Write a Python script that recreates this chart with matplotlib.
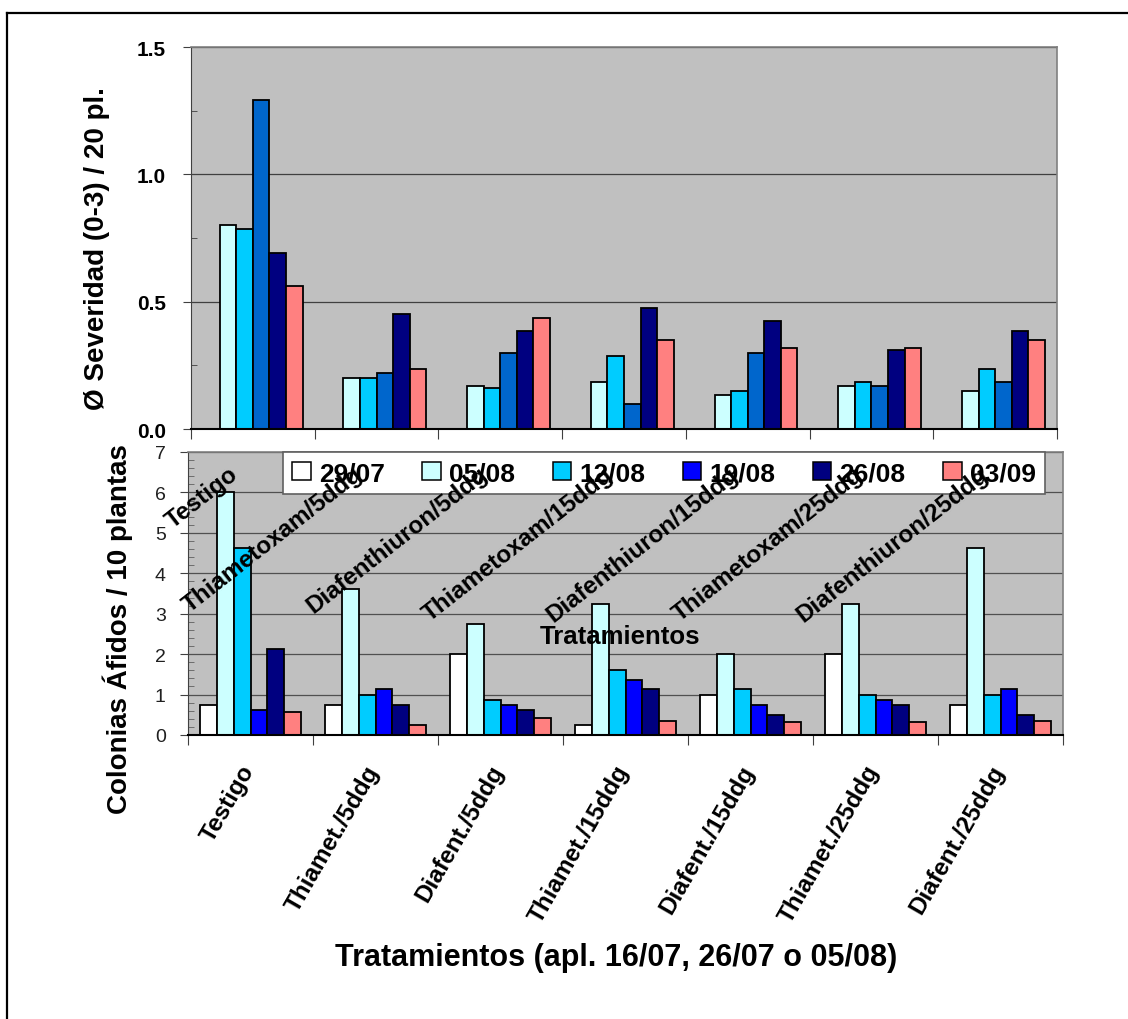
import numpy as np
import matplotlib
matplotlib.use('Agg')
import matplotlib.pyplot as plt
from matplotlib.patches import Patch
from matplotlib.lines import Line2D

plt.rcParams['font.family'] = ['Liberation Sans', 'DejaVu Sans']

# datos
fechas = ['29/07', '05/08', '12/08', '19/08', '26/08', '03/09']
trat_cortos = ['Testigo', 'Thiamet./5ddg', 'Diafent./5ddg', 'Thiamet./15ddg',
               'Diafent./15ddg', 'Thiamet./25ddg', 'Diafent./25ddg']
trat_largos = ['Testigo', 'Thiametoxam/5ddg', 'Diafenthiuron/5ddg', 'Thiametoxam/15ddg',
               'Diafenthiuron/15ddg', 'Thiametoxam/25ddg', 'Diafenthiuron/25ddg']

# severidad (0-3) / 20 pl.
sev_2907 = [0, 0, 0, 0, 0, 0, 0]
sev_0508 = [0.80, 0.20, 0.17, 0.185, 0.135, 0.17, 0.15]
sev_1208 = [0.785, 0.20, 0.16, 0.285, 0.15, 0.185, 0.235]
sev_1908 = [1.29, 0.22, 0.30, 0.10, 0.30, 0.17, 0.185]
sev_2608 = [0.69, 0.45, 0.385, 0.475, 0.425, 0.31, 0.385]
sev_0309 = [0.56, 0.235, 0.435, 0.35, 0.32, 0.32, 0.35]

# colonias afidos / 10 plantas
col_2907 = [0.75, 0.75, 2.0, 0.25, 1.0, 2.0, 0.75]
col_0508 = [6.0, 3.62, 2.75, 3.25, 2.0, 3.25, 4.62]
col_1208 = [4.62, 1.0, 0.87, 1.62, 1.13, 1.0, 1.0]
col_1908 = [0.62, 1.13, 0.75, 1.37, 0.75, 0.87, 1.13]
col_2608 = [2.13, 0.75, 0.62, 1.13, 0.5, 0.75, 0.5]
col_0309 = [0.56, 0.25, 0.43, 0.35, 0.31, 0.31, 0.35]

severidad = [sev_2907, sev_0508, sev_1208, sev_1908, sev_2608, sev_0309]
colonias = [col_2907, col_0508, col_1208, col_1908, col_2608, col_0309]

colores_sev = ['white', '#CCFFFF', '#00CCFF', '#0066CC', '#000080', '#FF8080']
colores_col = ['white', '#CCFFFF', '#00CCFF', '#0000FF', '#000080', '#FF8080']

W, H = 1128, 1020
fig = plt.figure(figsize=(W / 100, H / 100), dpi=100)

def caja(x0, y0, x1, y1):
    return [x0 / W, 1 - y1 / H, (x1 - x0) / W, (y1 - y0) / H]

ax1 = fig.add_axes(caja(191, 48, 1057, 430))
ax2 = fig.add_axes(caja(188, 453, 1063, 736))

x = np.arange(len(trat_cortos))
ancho = 0.134

for ax, datos, colores in [(ax1, severidad, colores_sev), (ax2, colonias, colores_col)]:
    ax.set_facecolor('#C0C0C0')
    for i, serie in enumerate(datos):
        ax.bar(x + (i - 2.5) * ancho, serie, ancho, color=colores[i],
               edgecolor='black', linewidth=1.3, zorder=2)
    ax.set_xlim(-0.5, len(x) - 0.5)
    # marcas entre grupos
    ax.set_xticks(np.arange(len(x) + 1) - 0.5, minor=True)
    ax.set_xticks([])
    ax.tick_params(axis='x', which='minor', direction='out', length=7, width=0.8,
                   color='#404040', labelbottom=False)
    for lado in ['top', 'right']:
        ax.spines[lado].set_color('#808080')
        ax.spines[lado].set_linewidth(1.2)
    ax.spines['left'].set_color('#404040')
    ax.spines['bottom'].set_color('black')
    ax.spines['bottom'].set_linewidth(1.5)

# grafico de arriba
ax1.set_ylim(0, 1.5)
ax1.set_yticks([0.0, 0.5, 1.0, 1.5])
ax1.set_yticklabels(['0.0', '0.5', '1.0', '1.5'], fontweight='bold', fontsize=15)
ax1.set_yticks([0.25, 0.75, 1.25], minor=True)
ax1.tick_params(axis='y', which='major', direction='out', length=6, pad=12, color='#404040')
ax1.tick_params(axis='y', which='minor', direction='in', length=4, color='#404040')
ax1.yaxis.grid(True, which='major', color='#404040', linewidth=0.9, zorder=1)
ax1.set_axisbelow(True)

# grafico de abajo
ax2.set_ylim(0, 7)
ax2.set_yticks(range(8))
ax2.set_yticklabels([str(v) for v in range(8)], fontsize=14, color='#202020')
ax2.set_yticks(np.arange(0, 7.01, 0.2), minor=True)
ax2.tick_params(axis='y', which='major', direction='out', length=6, pad=10, color='#404040')
ax2.tick_params(axis='y', which='minor', direction='in', length=4, color='#606060')
ax2.yaxis.grid(True, which='major', color='#505050', linewidth=0.9, zorder=1)
ax2.set_axisbelow(True)

# etiquetas de tratamientos debajo del eje
for xi, nombre in zip(x, trat_cortos):
    ax2.text(xi + 0.065, -0.92, nombre, rotation=60, rotation_mode='anchor',
             ha='right', va='bottom', fontsize=17.5, fontweight='bold', clip_on=False)

# etiquetas largas dentro del grafico de abajo
for xi, nombre in zip(x, trat_largos):
    ax2.text(xi - 0.065, 6.30, nombre, rotation=38, rotation_mode='anchor',
             ha='right', va='bottom', fontsize=17.5, fontweight='bold',
             clip_on=False, zorder=6)

ax2.text(2.96, 2.44, 'Tratamientos', ha='center', va='center',
         fontsize=18.5, fontweight='bold', zorder=6)

# leyenda
manijas = [Patch(facecolor=c, edgecolor='black', linewidth=1.1) for c in colores_col]
ley = ax2.legend(manijas, fechas, ncol=6, mode='expand', loc='center',
                 bbox_to_anchor=caja(283, 450, 1045, 498), bbox_transform=fig.transFigure,
                 prop={'weight': 'bold', 'size': 19}, frameon=True, fancybox=False,
                 edgecolor='#606060', framealpha=1, handlelength=0.7, handleheight=0.7,
                 handletextpad=0.3, borderaxespad=0, borderpad=0.35)
ley.get_frame().set_linewidth(1.2)
ley.set_zorder(4)

# titulos de ejes
fig.text(97 / W, 1 - 249 / H, 'Ø Severidad (0-3) / 20 pl.', rotation=90,
         ha='center', va='center', fontsize=20, fontweight='bold')
fig.text(118 / W, 1 - 629 / H, 'Colonias Áfidos / 10 plantas', rotation=90,
         ha='center', va='center', fontsize=20, fontweight='bold')
fig.text(616 / W, 1 - 958 / H, 'Tratamientos (apl. 16/07, 26/07 o 05/08)',
         ha='center', va='center', fontsize=22, fontweight='bold')

# marco
fig.add_artist(Line2D([7 / W, 7 / W], [0, 1 - 14 / H], color='black', linewidth=1.6))
fig.add_artist(Line2D([7 / W, 1], [1 - 14 / H, 1 - 14 / H], color='black', linewidth=1.6))

fig.savefig('out.png', dpi=100)
